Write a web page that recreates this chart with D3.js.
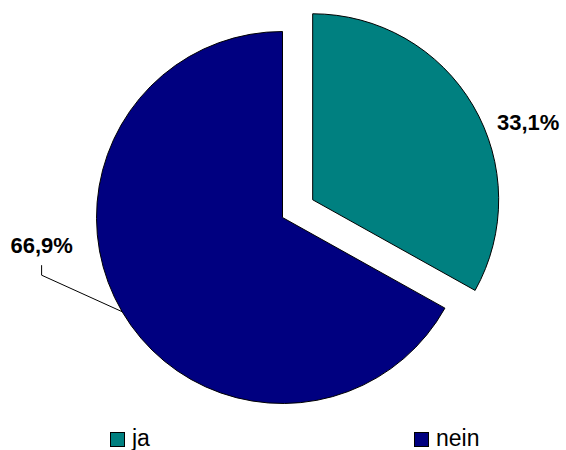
<!DOCTYPE html>
<html>
<head>
<meta charset="utf-8">
<script src="https://cdn.jsdelivr.net/npm/d3@7"></script>
<style>
  html, body { margin: 0; padding: 0; background: #fff; }
  svg { display: block; }
</style>
</head>
<body>
<svg id="chart" width="566" height="450"></svg>
<script>
// Answer categories and their shares (percent)
const categories = ["ja", "nein"];
const values = [33.1, 66.9];
const valueLabels = ["33,1%", "66,9%"];
const colors = ["#008080", "#000080"];

const svg = d3.select("#chart");
const cx = 282.5, cy = 217.5, radius = 186, explode = 35;

const pie = d3.pie().sort(null).value(d => d.value);
const arcs = pie(categories.map((c, i) => ({ cat: c, value: values[i], label: valueLabels[i], color: colors[i] })));
const arc = d3.arc().innerRadius(0).outerRadius(radius);

const g = svg.append("g").attr("transform", `translate(${cx},${cy})`);

// The "ja" slice is pulled out of the pie along its mid angle
function offset(d) {
  if (d.index !== 0) return [0, 0];
  const a = (d.startAngle + d.endAngle) / 2;
  return [Math.sin(a) * explode, -Math.cos(a) * explode];
}

g.selectAll("path.slice")
  .data(arcs)
  .join("path")
  .attr("class", "slice")
  .attr("d", arc)
  .attr("transform", d => `translate(${offset(d)})`)
  .attr("fill", d => d.data.color)
  .attr("stroke", "#000")
  .attr("stroke-width", 1);

const labelFont = "'Liberation Sans', Arial, sans-serif";

// "ja" label sits to the right of its slice
const ja = arcs[0];
{
  const [ox, oy] = offset(ja);
  const a = (ja.startAngle + ja.endAngle) / 2;
  const px = ox + Math.sin(a) * (radius + 30);
  const py = oy - Math.cos(a) * (radius + 30);
  g.append("text")
    .attr("x", px - 2)
    .attr("y", py + 40)
    .attr("font-family", labelFont)
    .attr("font-weight", "bold")
    .attr("font-size", 22)
    .attr("fill", "#000")
    .text(ja.data.label);
}

// "nein" label with a leader line to the slice edge
const nein = arcs[1];
{
  const a = (nein.startAngle + nein.endAngle) / 2;
  const ex = Math.sin(a) * radius, ey = -Math.cos(a) * radius;
  const lx = ex - 80.5, ly = ey - 36.5;
  g.append("polyline")
    .attr("points", [[ex, ey], [lx, ly], [lx, ly - 10]].map(p => p.join(",")).join(" "))
    .attr("fill", "none")
    .attr("stroke", "#000")
    .attr("stroke-width", 1);
  g.append("text")
    .attr("x", lx)
    .attr("y", ly - 22)
    .attr("text-anchor", "middle")
    .attr("font-family", labelFont)
    .attr("font-weight", "bold")
    .attr("font-size", 22)
    .attr("fill", "#000")
    .text(nein.data.label);
}

// Legend along the bottom
const legendX = d3.scalePoint().domain(categories).range([110, 414]);
const legend = svg.append("g");
const items = legend.selectAll("g.item")
  .data(arcs)
  .join("g")
  .attr("class", "item")
  .attr("transform", d => `translate(${legendX(d.data.cat)},432)`);
items.append("rect")
  .attr("x", 0.5).attr("y", 0.5)
  .attr("width", 14).attr("height", 14)
  .attr("fill", d => d.data.color)
  .attr("stroke", "#000")
  .attr("stroke-width", 1);
items.append("text")
  .attr("x", 22)
  .attr("y", 13.5)
  .attr("font-family", labelFont)
  .attr("font-size", 23)
  .attr("fill", "#000")
  .text(d => d.data.cat);
</script>
</body>
</html>
